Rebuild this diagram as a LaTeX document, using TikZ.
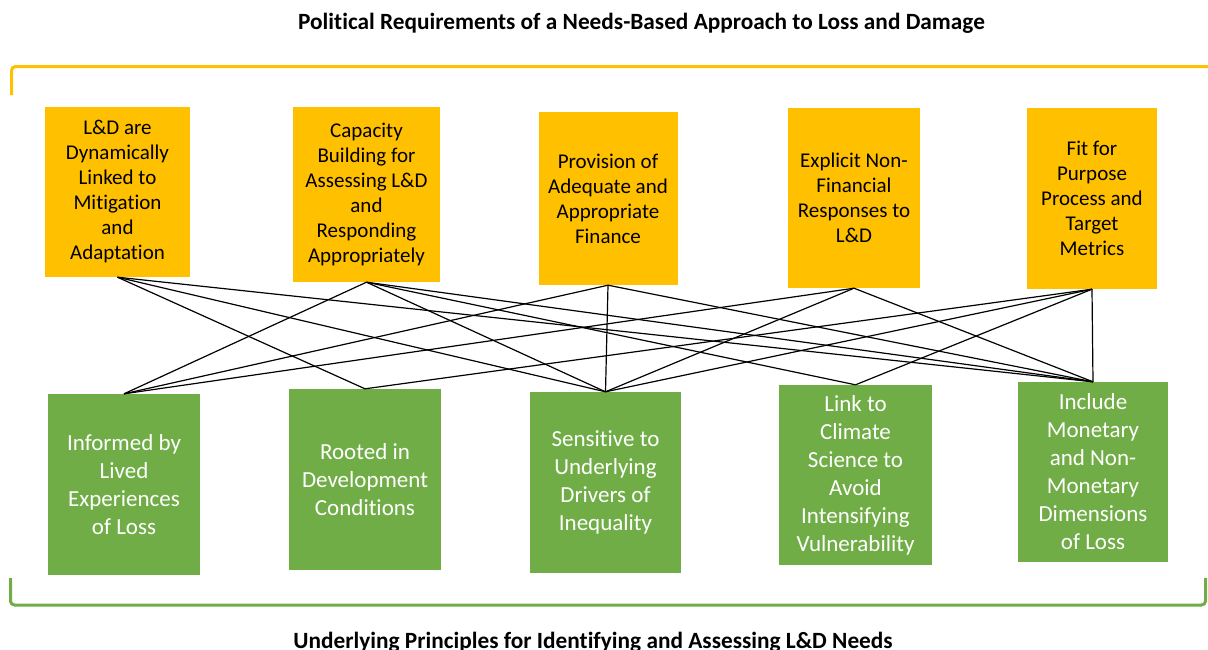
\documentclass[tikz,border=0pt]{standalone}
\usepackage{fontspec}
\setmainfont{Carlito}[Ligatures=NoCommon]
\definecolor{ybox}{HTML}{FFC000}
\definecolor{gbox}{HTML}{70AD47}
\begin{document}
\begin{tikzpicture}[x=1pt,y=-1pt,
  topbox/.style={fill=ybox, inner sep=0pt, align=center, font=\fontsize{21}{25}\selectfont, text=black},
  botbox/.style={fill=gbox, inner sep=0pt, align=center, font=\fontsize{23}{28}\selectfont, text=white},
  link/.style={draw=black, line width=1.2pt},
  titletext/.style={font=\bfseries\fontsize{23.3}{28}\selectfont, anchor=base},
  bracket/.style={line width=3pt, rounded corners=4pt}]
\useasboundingbox (0,0) rectangle (1208,649);

\node[titletext] (title1) at (641.5,29.5) {Political Requirements of a Needs-Based Approach to Loss and Damage};
\node[titletext] (title2) at (593,648) {Underlying Principles for Identifying and Assessing L\&D Needs};

\coordinate (ya) at (11.5,95);
\coordinate (yb) at (11.5,66.5);
\coordinate (yc) at (1210,66.5);
\draw[bracket, draw=ybox] (ya) -- (yb) -- (yc);
\coordinate (ga) at (10.5,578);
\coordinate (gb) at (10.5,605);
\coordinate (gc) at (1205.5,605);
\coordinate (gd) at (1205.5,578);
\draw[bracket, draw=gbox] (ga) -- (gb) -- (gc) -- (gd);

\node[topbox, minimum width=145pt, minimum height=170pt] (t1) at (117.5,192) {L\&D are\\Dynamically\\Linked to\\Mitigation\\and\\Adaptation};
\node[topbox, minimum width=147pt, minimum height=175pt] (t2) at (366.5,194.5) {Capacity\\Building for\\Assessing L\&D\\and\\Responding\\Appropriately};
\node[topbox, minimum width=139pt, minimum height=173pt] (t3) at (608,198.5) {Provision of\\Adequate and\\Appropriate\\Finance};
\node[topbox, minimum width=132pt, minimum height=180pt] (t4) at (854,198) {Explicit Non-\\Financial\\Responses to\\L\&D};
\node[topbox, minimum width=130pt, minimum height=181pt] (t5) at (1092,198.5) {Fit for\\Purpose\\Process and\\Target\\Metrics};

\node[botbox, minimum width=152pt, minimum height=181pt] (b1) at (124,484.5) {Informed by\\Lived\\Experiences\\of Loss};
\node[botbox, minimum width=152pt, minimum height=181pt] (b2) at (365,479.5) {Rooted in\\Development\\Conditions};
\node[botbox, minimum width=151pt, minimum height=181pt] (b3) at (605.5,482.5) {Sensitive to\\Underlying\\Drivers of\\Inequality};
\node[botbox, minimum width=153pt, minimum height=180pt] (b4) at (855.5,475) {Link to\\Climate\\Science to\\Avoid\\Intensifying\\Vulnerability};
\node[botbox, minimum width=150pt, minimum height=180pt] (b5) at (1093,472) {Include\\Monetary\\and Non-\\Monetary\\Dimensions\\of Loss};

\foreach \a/\b in {t1/b2,t1/b3,t1/b5,
                   t2/b1,t2/b3,t2/b4,t2/b5,
                   t3/b1,t3/b3,t3/b5,
                   t4/b1,t4/b3,t4/b5,
                   t5/b2,t5/b3,t5/b4,t5/b5}
  \draw[link] (\a.south) -- (\b.north);
\end{tikzpicture}
\end{document}
